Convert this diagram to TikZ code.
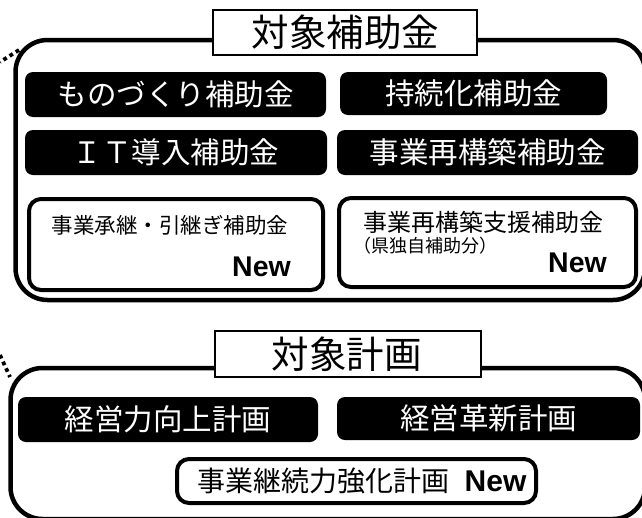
\documentclass[tikz,border=0pt]{standalone}
\usepackage{fontspec}
\setmainfont{Noto Sans CJK JP}
\newfontfamily\latinsans{Liberation Sans}
\tikzset{
  panel/.style={draw=black, line width=4.5pt, rounded corners=32pt},
  titlebox/.style={draw=black, fill=white, line width=2pt, inner sep=0pt, font=\fontsize{37.5}{40}\selectfont},
  blackbox/.style={fill=black, rounded corners=8pt, inner sep=0pt, text=white, font=\fontsize{29.5}{32}\selectfont},
  whitebox/.style={draw=black, line width=4pt, rounded corners=12pt, inner sep=0pt},
  newtag/.style={inner sep=0pt, font=\latinsans\bfseries\fontsize{28.5}{30}\selectfont},
  dotbit/.style={line width=3.8pt, dash pattern=on 3.8pt off 3.5pt},
}
\begin{document}
\begin{tikzpicture}[x=1pt,y=-1pt]
\useasboundingbox (0,0) rectangle (642,517);
\clip (0,0) rectangle (642,517);
% ---------- top panel ----------
\draw[panel] (15.5,40) rectangle (645,300);
\node[titlebox, minimum width=264pt, minimum height=45pt] (t1) at (345,32.5) {};
\node[inner sep=0pt, font=\fontsize{37.5}{40}\selectfont] (t1txt) at (345.5,32) {対象補助金};
\coordinate (d1a) at (19,50);
\coordinate (d1b) at (0,62);
\draw[dotbit] (d1a) -- (d1b);
\node[blackbox, minimum width=301pt, minimum height=45pt] (b1) at (175.5,94.5) {ものづくり補助金};
\node[blackbox, minimum width=267pt, minimum height=43pt] (b2) at (473.5,93.5) {持続化補助金};
\node[blackbox, minimum width=302pt, minimum height=45pt] (b3) at (176,152.5) {ＩＴ導入補助金};
\node[blackbox, minimum width=301pt, minimum height=45pt] (b4) at (487.5,152.5) {事業再構築補助金};
\node[whitebox, minimum width=294pt, minimum height=91pt] (w1) at (176,244.5) {};
\node[inner sep=0pt, font=\fontsize{21.5}{23}\selectfont] (w1a) at (170,225) {事業承継・引継ぎ補助金};
\node[newtag] (w1n) at (261.5,267) {New};
\node[whitebox, minimum width=297pt, minimum height=89pt] (w2) at (487.5,242.5) {};
\node[inner sep=0pt, font=\fontsize{24}{26}\selectfont] (w2a) at (483,222.5) {事業再構築支援補助金};
\node[inner sep=0pt, font=\fontsize{18}{19}\selectfont] (w2b) at (425,245.5) {（県独自補助分）};
\node[newtag] (w2n) at (577.5,263) {New};
% ---------- bottom panel ----------
\draw[panel] (10.5,368) rectangle (645,519);
\node[titlebox, minimum width=266pt, minimum height=46pt] (t2) at (348,354) {};
\node[inner sep=0pt, font=\fontsize{37.5}{40}\selectfont] (t2txt) at (346.5,354) {対象計画};
\coordinate (d2a) at (0,355);
\coordinate (d2b) at (10,377);
\draw[dotbit] (d2a) -- (d2b);
\node[blackbox, minimum width=300pt, minimum height=45pt] (b5) at (168,419.5) {経営力向上計画};
\node[blackbox, minimum width=303pt, minimum height=43pt] (b6) at (488.5,418.5) {経営革新計画};
\node[whitebox, minimum width=359pt, minimum height=44pt] (w3) at (356.5,481) {};
\node[inner sep=0pt, font=\fontsize{28}{30}\selectfont] (w3a) at (323,481) {事業継続力強化計画};
\node[newtag, font=\latinsans\bfseries\fontsize{30}{32}\selectfont] (w3n) at (495.5,481) {New};
\end{tikzpicture}
\end{document}
